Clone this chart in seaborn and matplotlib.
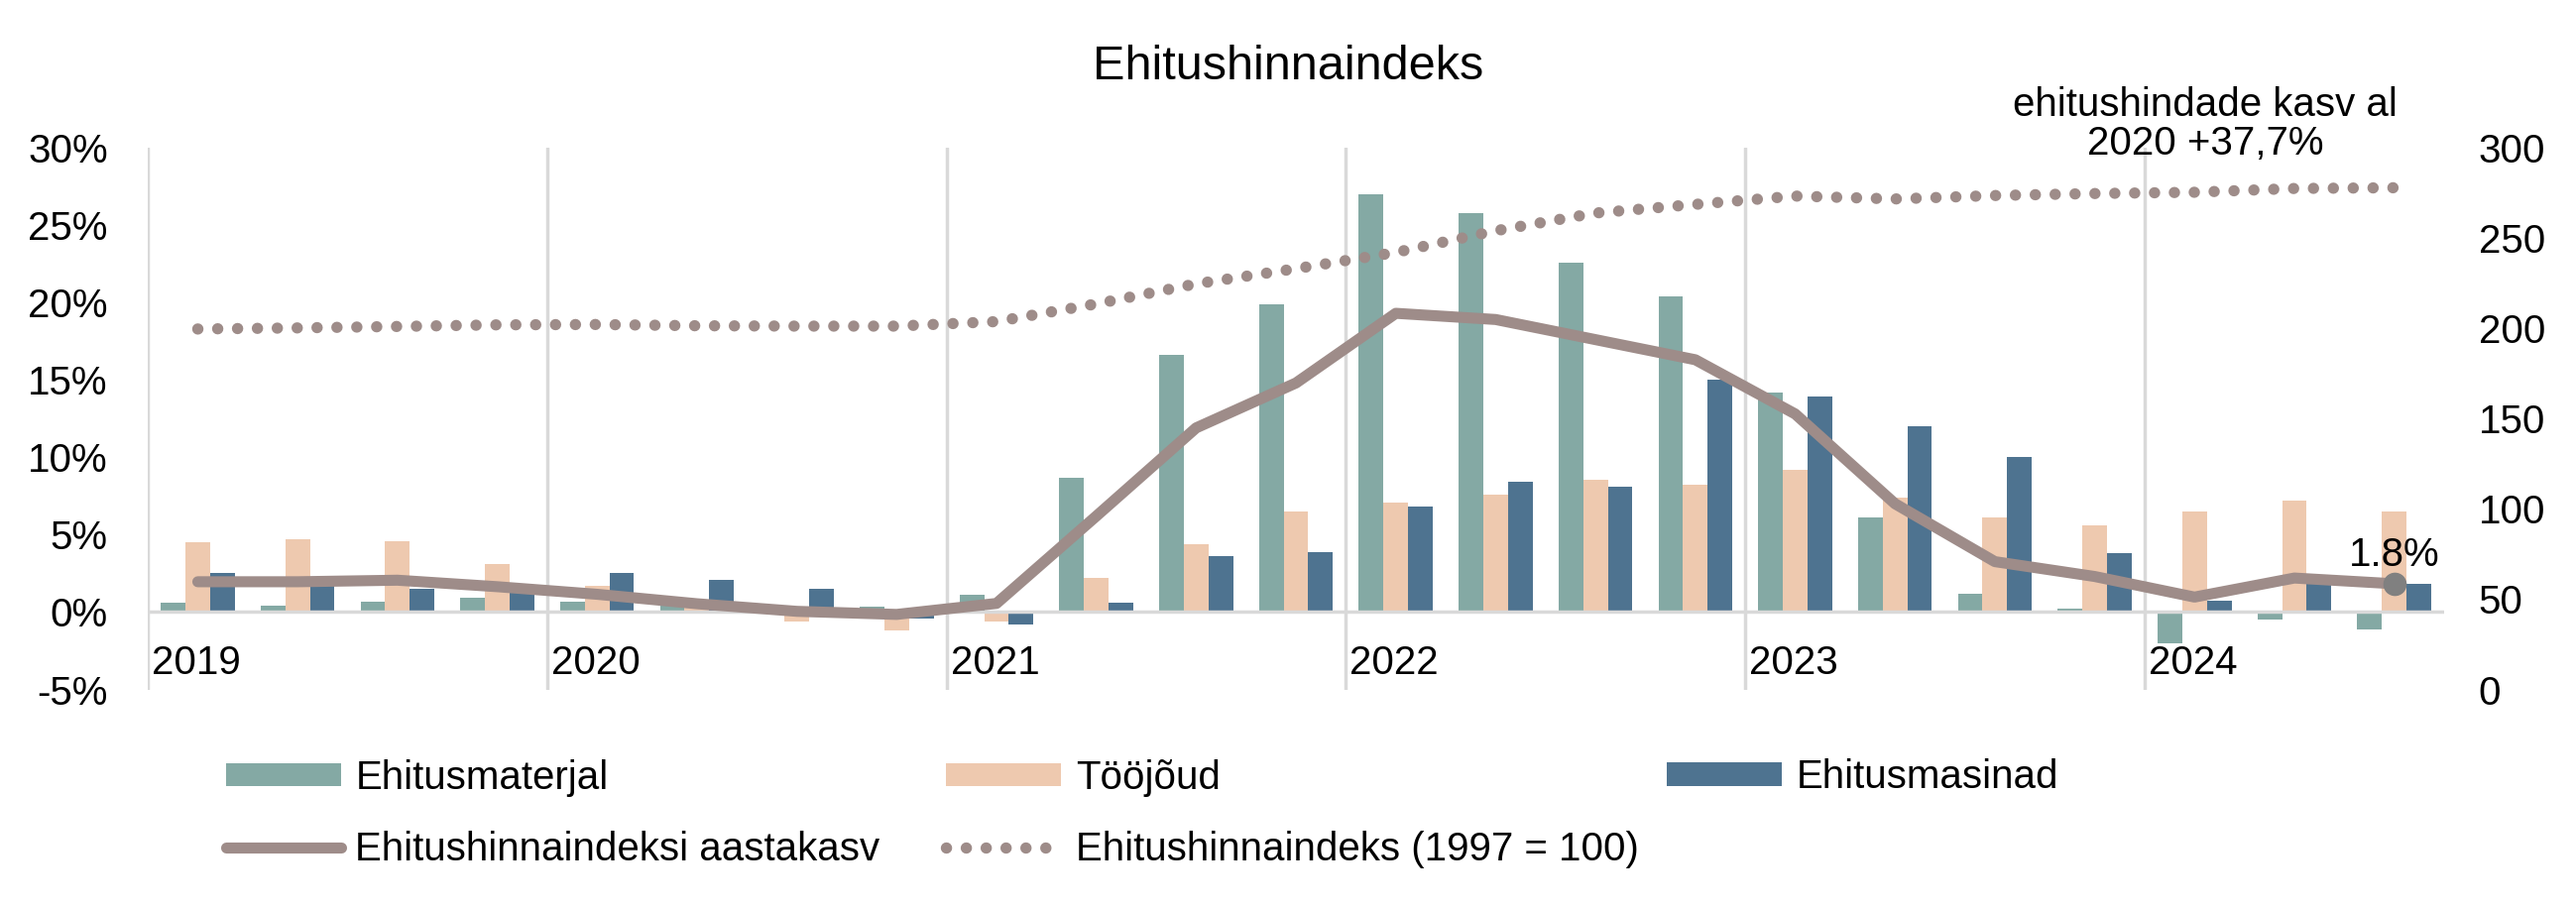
import matplotlib
matplotlib.use("Agg")
import matplotlib.pyplot as plt
import matplotlib.patches as mpatches
import pandas as pd
import seaborn as sns

# quarterly data, 2019 Q1 ... 2024 Q3
quarters = [
    "2019 Q1", "2019 Q2", "2019 Q3", "2019 Q4",
    "2020 Q1", "2020 Q2", "2020 Q3", "2020 Q4",
    "2021 Q1", "2021 Q2", "2021 Q3", "2021 Q4",
    "2022 Q1", "2022 Q2", "2022 Q3", "2022 Q4",
    "2023 Q1", "2023 Q2", "2023 Q3", "2023 Q4",
    "2024 Q1", "2024 Q2", "2024 Q3",
]
years = ["2019", "2020", "2021", "2022", "2023", "2024"]

materjal = [0.6, 0.4, 0.7, 0.9, 0.7, 0.4, 0.1, 0.35, 1.1, 8.7, 16.6, 19.9,
            27.0, 25.8, 22.6, 20.4, 14.2, 6.1, 1.2, 0.2, -2.0, -0.5, -1.1]
toojoud = [4.5, 4.7, 4.6, 3.1, 1.7, 0.3, -0.6, -1.2, -0.6, 2.2, 4.4, 6.5,
           7.1, 7.6, 8.55, 8.2, 9.2, 7.4, 6.1, 5.6, 6.5, 7.2, 6.5]
masinad = [2.5, 1.8, 1.5, 1.3, 2.5, 2.06, 1.5, -0.4, -0.8, 0.6, 3.6, 3.9,
           6.8, 8.4, 8.1, 15.0, 13.9, 12.0, 10.0, 3.8, 0.75, 1.9, 1.8]
aastakasv = [1.96, 1.96, 2.06, 1.64, 1.15, 0.54, 0.05, -0.15, 0.56, 6.2, 11.9, 14.8,
             19.3, 18.9, 17.6, 16.3, 12.8, 7.0, 3.26, 2.3, 0.97, 2.2, 1.83]
indeks = [199.6, 200.2, 201.0, 201.9, 202.1, 201.4, 201.2, 201.2, 203.7, 213.5, 224.6, 233.0,
          242.0, 254.0, 263.8, 268.6, 273.2, 271.6, 273.5, 274.6, 275.3, 277.4, 277.8]

series_names = ["Ehitusmaterjal", "Tööjõud", "Ehitusmasinad"]
colors = ["#84A9A4", "#EEC9AF", "#4E7390"]
line_color = "#9E8C89"

df = pd.DataFrame({
    "kvartal": quarters * 3,
    "seeria": [series_names[0]] * len(quarters) + [series_names[1]] * len(quarters)
              + [series_names[2]] * len(quarters),
    "muutus": materjal + toojoud + masinad,
})

sns.set_theme(style="white")
plt.rcParams["font.family"] = ["Liberation Sans", "DejaVu Sans"]
plt.rcParams["text.color"] = "black"
plt.rcParams["ytick.color"] = "black"
plt.rcParams["xtick.color"] = "black"
FS = 29

fig = plt.figure(figsize=(25.98, 9.15), dpi=100)
ax = fig.add_axes([0.0574, 0.2398, 0.8914, 0.5974])

sns.barplot(data=df, x="kvartal", y="muutus", hue="seeria", order=quarters,
            hue_order=series_names, palette=colors, saturation=1, width=0.74,
            gap=0, linewidth=0, errorbar=None, legend=False, ax=ax, zorder=2)

ax.axhline(0, color="#D9D9D9", lw=2.5, zorder=3)
pos = list(range(len(quarters)))
(l_kasv,) = ax.plot(pos, aastakasv, color=line_color, lw=8, zorder=4,
                    solid_capstyle="round", solid_joinstyle="round",
                    label="Ehitushinnaindeksi aastakasv")
ax.plot(pos[-1], aastakasv[-1], "o", color="#808080", ms=16, zorder=5)
ax.annotate(f"{aastakasv[-1]:.1f}%", (pos[-1], aastakasv[-1]), xytext=(0, 21),
            textcoords="offset points", ha="center", va="center", fontsize=FS)

ax.set_xlim(-0.5, len(quarters) - 0.5)
ax.set_ylim(-5, 30)
ax.set_yticks(range(-5, 31, 5))
ax.set_yticklabels([f"{v}%" for v in range(-5, 31, 5)], fontsize=FS)
ax.set_xticks([])
ax.set_xlabel("")
ax.set_ylabel("")
boundaries = [i * 4 - 0.5 for i in range(len(years))]
ax.set_xticks(boundaries, minor=True)
ax.tick_params(axis="x", which="minor", length=0, labelbottom=False)
ax.grid(which="minor", axis="x", color="#D9D9D9", lw=2.5)
ax.set_axisbelow(True)
ax.tick_params(axis="y", length=0, pad=29)
for yr, b in zip(years, boundaries):
    ax.text(b + 0.04, -3.3, yr, ha="left", va="center", fontsize=FS)
for s in ax.spines.values():
    s.set_visible(False)

ax2 = ax.twinx()
(l_ind,) = ax2.plot(pos, indeks, color=line_color, lw=8.2,
                    linestyle=(0, (0.01, 1.75)), dash_capstyle="round",
                    label="Ehitushinnaindeks (1997 = 100)")
ax2.set_ylim(0, 300)
ax2.set_yticks(range(0, 301, 50))
ax2.set_yticklabels([str(v) for v in range(0, 301, 50)], fontsize=FS)
ax2.tick_params(axis="y", length=0, pad=25)
ax2.grid(False)
for s in ax2.spines.values():
    s.set_visible(False)

fig.text(0.5, 0.926, "Ehitushinnaindeks", ha="center", va="center", fontsize=35)
fig.text(0.856, 0.863, "ehitushindade kasv al\n2020 +37,7%", ha="center", va="center",
         fontsize=FS, linespacing=1.05)

patches = [mpatches.Patch(color=c, label=n, linewidth=0) for c, n in zip(colors, series_names)]
leg_kw = dict(frameon=False, fontsize=FS, borderpad=0, borderaxespad=0,
              handlelength=2.88, handleheight=0.52, handletextpad=0.37, labelspacing=0.85)
fig.legend(handles=[patches[0], l_kasv], loc="center left",
           bbox_to_anchor=(0.0876, 0.1027), **leg_kw)
fig.legend(handles=[patches[1], l_ind], loc="center left",
           bbox_to_anchor=(0.3672, 0.1027), **leg_kw)
fig.legend(handles=[patches[2]], loc="center left",
           bbox_to_anchor=(0.647, 0.1431), **leg_kw)

fig.savefig("out.png", dpi=100)
